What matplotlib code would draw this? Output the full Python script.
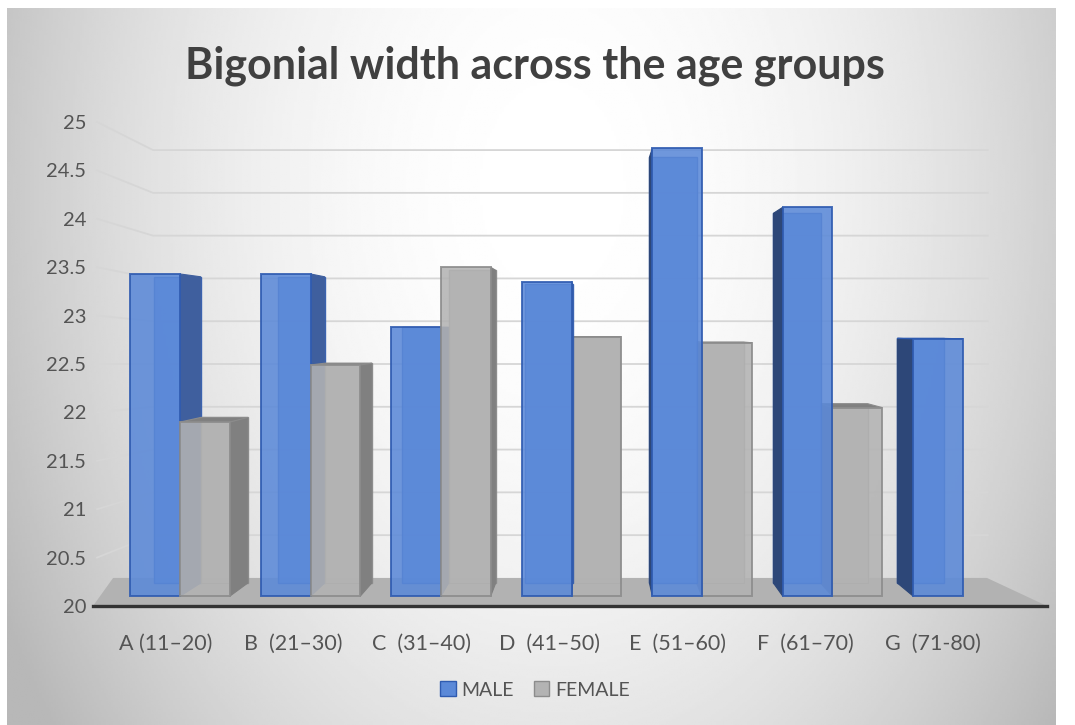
import numpy as np
import matplotlib
matplotlib.use("Agg")
import matplotlib.pyplot as plt
from matplotlib.patches import Polygon, Patch

plt.rcParams['font.family'] = ['Lato', 'DejaVu Sans']

# data
groups = ["A (11–20)", "B  (21–30)", "C  (31–40)", "D  (41–50)",
          "E  (51–60)", "F  (61–70)", "G  (71-80)"]
male = [23.43, 23.43, 22.88, 23.35, 24.73, 24.12, 22.76]
female = [21.90, 22.49, 23.50, 22.78, 22.72, 22.05, None]
yticks = [20, 20.5, 21, 21.5, 22, 22.5, 23, 23.5, 24, 24.5, 25]

# fake 3D look (perspective towards a vanishing point, in data units)
VX, VY, D = 3.165, 22.85, 0.05     # bars
WALL_VY, WALL_S = 22.5, 0.884       # back wall / floor
BASE = 20.1
BW = 0.38

male_face, male_side, male_side_l, male_edge = '#5B89D8', '#3F5F9E', '#2D4778', '#2F5BB0'
fem_face, fem_side, fem_edge = '#B3B3B3', '#808080', '#8C8C8C'
txt = '#545454'

fig = plt.figure(figsize=(10.75, 7.25), dpi=100)
fig.patch.set_facecolor('white')

# background gradient of the chart box
bg = fig.add_axes([7 / 1075, 0, 1049 / 1075, 717 / 725], zorder=-10)
u, v = np.meshgrid(np.linspace(0, 1, 440), np.linspace(0, 1, 300))
r2 = ((u - 0.52) / 0.42) ** 2 + ((v - 0.25) / 0.9) ** 2
shade = np.clip(1.0 - 0.14 * r2, 0.72, 1.0)
bg.imshow(shade, cmap='gray', vmin=0, vmax=1, aspect='auto', extent=[0, 1, 0, 1])
bg.axis('off')

ax = fig.add_axes([93 / 1075, 119 / 725, 954 / 1075, 484 / 725])
ax.set_facecolor('none')
ax.set_xlim(-0.667, 6.644)
ax.set_ylim(20, 25)


def wall_back(y):
    return WALL_VY + (y - WALL_VY) * WALL_S


# floor
x_fl, x_fr = -0.667, 6.644
x_bl, x_br = -0.513, 6.184
ax.add_patch(Polygon([(x_fl, 20), (x_fr, 20), (x_br, wall_back(20)), (x_bl, wall_back(20))],
                     closed=True, facecolor='#B2B2B2', edgecolor='none', zorder=1, clip_on=False))

# gridlines: side wall + back wall
x_side, x_corner, x_end = -0.636, -0.207, 6.19
for t in yticks[1:]:
    yb = wall_back(t)
    ax.plot([x_side, x_corner, x_end], [t, yb, yb], color='#D6D6D6', lw=1.3,
            zorder=0.5, solid_joinstyle='round', clip_on=False)


def back(x, y):
    return VX + (x - VX) * (1 - D), VY + (y - VY) * (1 - D)


def draw_bar(x0, val, face, side, side_l, edge, z):
    x1 = x0 + BW
    # back face outline (seen through the translucent front)
    bx0, bb = back(x0, BASE)
    bx1, bt = back(x1, val)
    ax.add_patch(Polygon([(bx0, bb), (bx1, bb), (bx1, bt), (bx0, bt)], closed=True,
                         facecolor=face, edgecolor=edge, lw=1.0, alpha=0.9, zorder=z))
    if x1 < VX:
        pts = [(x1, BASE), (x1, val), back(x1, val), back(x1, BASE)]
        ax.add_patch(Polygon(pts, closed=True, facecolor=side, edgecolor=side, lw=0.8, zorder=z + 0.1))
    if x0 > VX:
        pts = [(x0, BASE), (x0, val), back(x0, val), back(x0, BASE)]
        ax.add_patch(Polygon(pts, closed=True, facecolor=side_l, edgecolor=side_l, lw=0.8, zorder=z + 0.1))
    if val < VY:
        pts = [(x0, val), (x1, val), back(x1, val), back(x0, val)]
        ax.add_patch(Polygon(pts, closed=True, facecolor=side, edgecolor=edge, lw=0.8, zorder=z + 0.1))
    ax.bar(x0, val - BASE, bottom=BASE, width=BW, align='edge', color=face, alpha=0.88,
           edgecolor=edge, linewidth=1.4, zorder=z + 0.2)


for i in range(len(groups)):
    m_x = i - BW
    f_x = i
    z = 3
    order = [('m', m_x), ('f', f_x)] if i + 0.2 < VX else [('f', f_x), ('m', m_x)]
    for kind, x0 in order:
        if kind == 'm':
            draw_bar(x0, male[i], male_face, male_side, male_side_l, male_edge, z)
        elif female[i] is not None:
            draw_bar(x0, female[i], fem_face, fem_side, fem_side, fem_edge, z)
        z += 1

# axes, ticks
for s in ['top', 'right', 'left']:
    ax.spines[s].set_visible(False)
ax.spines['bottom'].set_color('#333333')
ax.spines['bottom'].set_linewidth(2.4)
ax.spines['bottom'].set_zorder(20)
ax.set_yticks(yticks)
ax.set_yticklabels([f"{t:g}" for t in yticks])
ax.set_xticks([i * 0.98 - 0.11 for i in range(len(groups))])
ax.set_xticklabels(groups)
ax.tick_params(axis='y', length=0, pad=5, labelsize=14.5, labelcolor=txt)
ax.tick_params(axis='x', length=0, pad=20, labelsize=15.5, labelcolor=txt)

fig.text(535 / 1075, 1 - 78 / 725, "Bigonial width across the age groups", ha='center',
         va='baseline', fontsize=31, fontweight='bold', color='#404040')

handles = [Patch(facecolor=male_face, edgecolor=male_edge, label='MALE'),
           Patch(facecolor=fem_face, edgecolor=fem_edge, label='FEMALE')]
fig.legend(handles=handles, loc='center', bbox_to_anchor=(535 / 1075, 1 - 690 / 725), ncol=2,
           frameon=False, fontsize=14, handlelength=0.8, handleheight=0.8,
           handletextpad=0.3, columnspacing=1.0, labelcolor=txt)

fig.savefig('out.png', dpi=100)
